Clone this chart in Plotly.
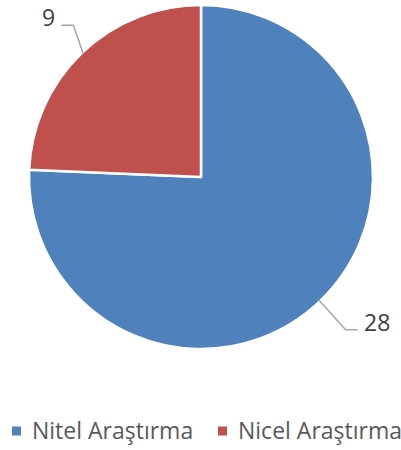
import math
import plotly.graph_objects as go

# Research type counts
categories = ["Nitel Araştırma", "Nicel Araştırma"]
counts = [28, 9]
colors = ["#4F81BD", "#C0504D"]

W, H = 401, 450
# pie placement in pixels (centre and radius)
CX, CY, R = 201, 177, 172

def px(x):
    return x / W

def py(y):
    return 1 - y / H

fig = go.Figure(go.Pie(
    labels=categories,
    values=counts,
    sort=False,
    direction="clockwise",
    rotation=0,
    marker=dict(colors=colors, line=dict(color="white", width=2.5)),
    textinfo="none",
    hoverinfo="label+value",
    showlegend=False,
    domain=dict(x=[px(CX - R), px(CX + R)], y=[py(CY + R), py(CY - R)]),
))

# leader lines and value labels, placed at each slice's mid angle
RE = 170                             # visible pie edge radius (px)
total = sum(counts)
elbow_off = [(27, 30), (-10, -29)]   # edge -> elbow offset (px)
tail = [12, -12]                     # horizontal tail length (px)
shapes, annotations = [], []
start = 0.0
for i, v in enumerate(counts):
    mid = start + v / total * 360 / 2
    start += v / total * 360
    a = math.radians(mid)
    ex, ey = CX + RE * math.sin(a), CY - RE * math.cos(a)
    bx, by = ex + elbow_off[i][0], ey + elbow_off[i][1]
    tx = bx + tail[i]
    shapes.append(dict(type="path", xref="paper", yref="paper",
                       path=f"M{px(ex)},{py(ey)} L{px(bx)},{py(by)} L{px(tx)},{py(by)}",
                       line=dict(color="#A6A6A6", width=1.5)))
    annotations.append(dict(
        x=px(tx + (4 if tail[i] > 0 else -4)), y=py(by - 8),
        xref="paper", yref="paper", text=str(v), showarrow=False,
        xanchor="left" if tail[i] > 0 else "right", yanchor="middle",
        font=dict(family="Open Sans", size=23, color="#404040")))

# legend row along the bottom: square swatch + category name
legend_x = [12, 218]
legend_y = 431
for name, col, lx in zip(categories, colors, legend_x):
    shapes.append(dict(type="rect", xref="paper", yref="paper",
                       x0=px(lx), x1=px(lx + 9), y0=py(legend_y + 4.5), y1=py(legend_y - 4.5),
                       fillcolor=col, line=dict(width=0)))
    annotations.append(dict(
        x=px(lx + 18), y=py(legend_y - 1), xref="paper", yref="paper",
        text=name, showarrow=False, xanchor="left", yanchor="middle",
        font=dict(family="Open Sans", size=23, color="#595959")))

fig.update_layout(
    width=W, height=H,
    margin=dict(l=0, r=0, t=0, b=0),
    paper_bgcolor="white",
    plot_bgcolor="white",
    shapes=shapes,
    annotations=annotations,
    showlegend=False,
)

fig.write_html("out.html")
